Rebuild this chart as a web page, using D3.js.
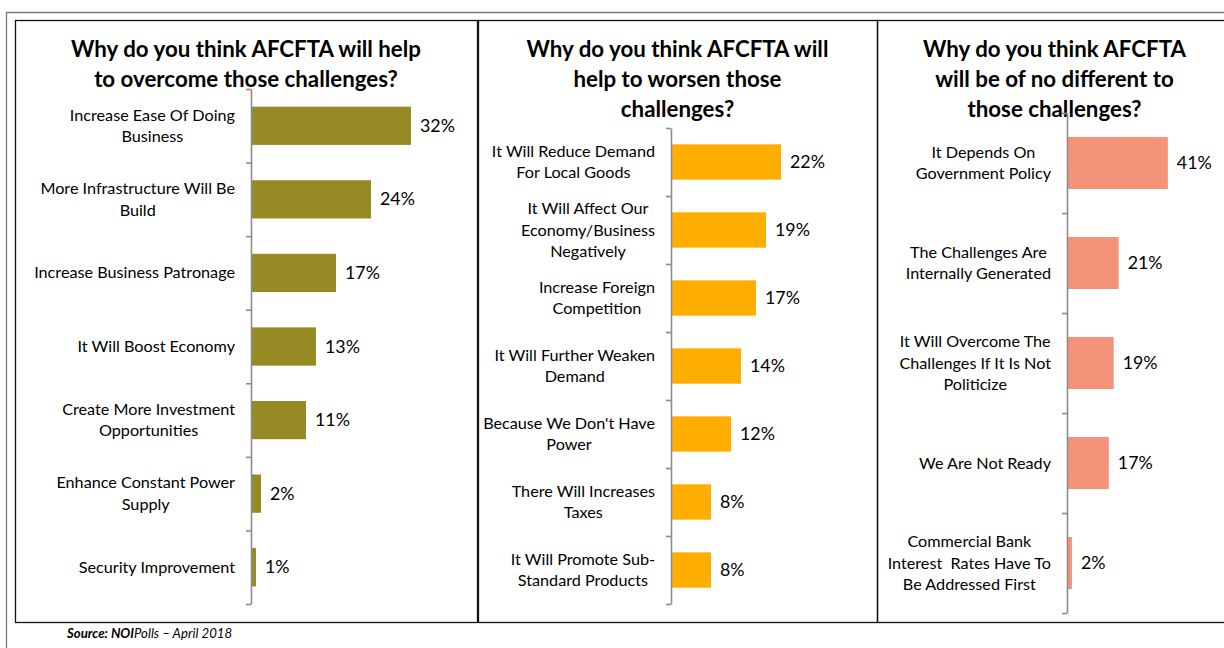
<!DOCTYPE html>
<html>
<head>
<meta charset="utf-8">
<script src="https://cdn.jsdelivr.net/npm/d3@7/dist/d3.min.js"></script>
<style>
  html, body { margin: 0; padding: 0; background: #fff; }
  svg { display: block; font-family: Lato, "Open Sans", sans-serif; }
  text { white-space: pre; }
</style>
</head>
<body>
<svg id="chart" width="1224" height="648"></svg>
<script>
// Survey data: NOIPolls, April 2018 — reasons given per outlook on AFCFTA
const overcomeTitle = ["Why do you think AFCFTA will help", "to overcome those challenges?"];
const overcomeCategories = [
  "Increase Ease Of Doing\nBusiness",
  "More Infrastructure Will Be\nBuild",
  "Increase Business Patronage",
  "It Will Boost Economy",
  "Create More Investment\nOpportunities",
  "Enhance Constant Power\nSupply",
  "Security Improvement"
];
const overcomeValues = [32, 24, 17, 13, 11, 2, 1];

const worsenTitle = ["Why do you think AFCFTA will", "help to worsen those", "challenges?"];
const worsenCategories = [
  "It Will Reduce Demand\nFor Local Goods",
  "It Will Affect Our\nEconomy/Business\nNegatively",
  "Increase Foreign\nCompetition",
  "It Will Further Weaken\nDemand",
  "Because We Don't Have\nPower",
  "There Will Increases\nTaxes",
  "It Will Promote Sub-\nStandard Products"
];
const worsenValues = [22, 19, 17, 14, 12, 8, 8];

const noDiffTitle = ["Why do you think AFCFTA", "will be of no different to", "those challenges?"];
const noDiffCategories = [
  "It Depends On\nGovernment Policy",
  "The Challenges Are\nInternally Generated",
  "It Will Overcome The\nChallenges If It Is Not\nPoliticize",
  "We Are Not Ready",
  "Commercial Bank\nInterest  Rates Have To\nBe Addressed First"
];
const noDiffValues = [41, 21, 19, 17, 2];

const svg = d3.select("#chart");

// Outer page frame
svg.append("line").attr("x1", 6).attr("x2", 1224).attr("y1", 12.5).attr("y2", 12.5)
  .attr("stroke", "#7a7a7a").attr("stroke-width", 1.3);
svg.append("line").attr("x1", 6.5).attr("x2", 6.5).attr("y1", 12).attr("y2", 648)
  .attr("stroke", "#7a7a7a").attr("stroke-width", 1.3);

const panels = [
  { title: overcomeTitle, cats: overcomeCategories, vals: overcomeValues, color: "#958A23",
    box: [15, 477], axisX: 251, top: 89, bottom: 604, xMax: 40, xWidth: 200 },
  { title: worsenTitle, cats: worsenCategories, vals: worsenValues, color: "#FFAE00",
    box: [478, 877], axisX: 671, top: 128, bottom: 604, xMax: 40, xWidth: 200 },
  { title: noDiffTitle, cats: noDiffCategories, vals: noDiffValues, color: "#F4927A",
    box: [877, 1232], axisX: 1067, top: 113, bottom: 613, xMax: 50, xWidth: 123 }
];

panels.forEach(p => {
  const g = svg.append("g");

  // Panel border
  g.append("rect")
    .attr("x", p.box[0] + 0.5).attr("y", 20.5)
    .attr("width", p.box[1] - p.box[0]).attr("height", 602)
    .attr("fill", "none").attr("stroke", "#111").attr("stroke-width", 1.3);

  // Title
  const cx = (p.box[0] + Math.min(p.box[1], 1235)) / 2;
  const title = g.append("text")
    .attr("text-anchor", "middle")
    .attr("font-size", 22.3).attr("font-weight", 700).attr("fill", "#000");
  p.title.forEach((line, i) => {
    title.append("tspan").attr("x", cx).attr("y", 57 + i * 30).text(line);
  });

  const n = p.cats.length;
  const y = d3.scaleBand().domain(d3.range(n)).range([p.top, p.bottom])
    .paddingInner(0.48).paddingOuter(0.24);
  const x = d3.scaleLinear().domain([0, p.xMax]).range([p.axisX, p.axisX + p.xWidth]);
  const tickScale = d3.scaleLinear().domain([0, n]).range([p.top, p.bottom]);

  // Bars
  g.selectAll("rect.bar").data(p.vals).join("rect")
    .attr("class", "bar")
    .attr("x", x(0)).attr("y", (d, i) => y(i))
    .attr("width", d => x(d) - x(0)).attr("height", y.bandwidth())
    .attr("fill", p.color);

  // Category axis with ticks on band boundaries
  const axis = g.append("g").attr("transform", `translate(${p.axisX},0)`)
    .call(d3.axisLeft(tickScale).tickValues(d3.range(n + 1)).tickSize(5)
      .tickSizeOuter(0).tickFormat(""));
  axis.select(".domain").attr("stroke", "#8c8c8c").attr("stroke-width", 1.6);
  axis.selectAll(".tick line").attr("stroke", "#8c8c8c").attr("stroke-width", 1.6);

  // Value labels
  g.selectAll("text.val").data(p.vals).join("text")
    .attr("class", "val")
    .attr("x", d => x(d) + 9)
    .attr("y", (d, i) => y(i) + y.bandwidth() / 2 + 6)
    .attr("font-size", 17.8).attr("fill", "#000")
    .text(d => d + "%");

  // Category labels: block right-aligned to axis, lines centred within block
  const labelRight = p.axisX - 16;
  const lh = 21.5;
  p.cats.forEach((c, i) => {
    const lines = c.split("\n");
    const t = g.append("text").attr("text-anchor", "middle")
      .attr("font-size", 16.2).attr("fill", "#000");
    const mid = y(i) + y.bandwidth() / 2;
    const spans = lines.map((line, j) =>
      t.append("tspan").attr("y", mid + (j - (lines.length - 1) / 2) * lh + 5.5).text(line));
    const w = d3.max(spans, s => s.node().getComputedTextLength());
    spans.forEach(s => s.attr("x", labelRight - w / 2));
  });
});

// Source note
const src = svg.append("text").attr("x", 67).attr("y", 638)
  .attr("font-size", 13.2).attr("font-style", "italic").attr("fill", "#000");
src.append("tspan").attr("font-weight", 700).text("Source: NOI");
src.append("tspan").text("Polls \u2013 April 2018");
</script>
</body>
</html>
